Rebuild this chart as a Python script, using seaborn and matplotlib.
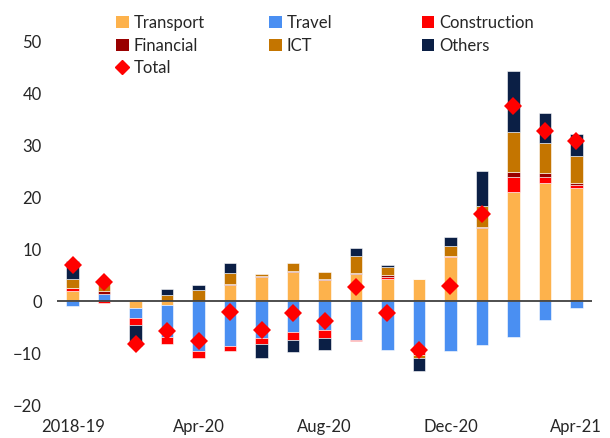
import numpy as np
import pandas as pd
import seaborn as sns
import matplotlib.pyplot as plt
from matplotlib.patches import Patch
from matplotlib.lines import Line2D

# categories along the x axis
periodos = ["2018-19", "2019-20", "Feb-20", "Mar-20", "Apr-20", "May-20", "Jun-20",
            "Jul-20", "Aug-20", "Sep-20", "Oct-20", "Nov-20", "Dec-20", "Jan-21",
            "Feb-21", "Mar-21", "Apr-21"]

# contributions by sector
transport = [1.9, 0.0, -1.2, -0.8, 0.0, 3.1, 4.7, 5.7, 4.1, 5.3, 4.3, 4.3, 8.5, 14.1, 21.0, 22.9, 21.8]
travel = [-0.9, 1.5, -2.1, -6.1, -9.5, -8.7, -7.1, -6.0, -5.6, -7.5, -9.3, -8.9, -9.5, -8.5, -6.8, -3.6, -1.3]
construction = [0.6, -0.4, -1.3, -1.4, -1.4, -0.9, -1.1, -1.4, -1.4, -0.2, 0.4, -1.4, 0.2, 0.0, 2.9, 1.0, 0.7]
financial = [0.1, 0.4, 0.0, 0.0, 0.0, 0.2, 0.2, 0.2, 0.2, 0.2, 0.4, 0.0, 0.0, 0.3, 1.0, 0.8, 0.4]
ict = [1.7, 1.4, 0.0, 1.3, 2.2, 2.2, 0.4, 1.4, 1.4, 3.3, 1.6, -0.7, 1.9, 4.0, 7.7, 5.8, 5.1]
others = [3.4, 0.8, -4.0, 1.1, 0.9, 1.9, -2.8, -2.3, -2.4, 1.5, 0.3, -2.5, 1.8, 6.7, 11.8, 5.9, 4.2]
total = [7.0, 3.8, -8.3, -5.8, -7.6, -2.1, -5.5, -2.3, -3.8, 2.8, -2.2, -9.3, 2.9, 16.8, 37.6, 32.8, 31.0]

series = ["Transport", "Travel", "Construction", "Financial", "ICT", "Others"]
valores = [transport, travel, construction, financial, ict, others]
cores = {"Transport": "#FDB24C", "Travel": "#4A8FF2", "Construction": "#FF0000",
         "Financial": "#990000", "ICT": "#C47500", "Others": "#0B1F45"}

sns.set_style("white")
plt.rcParams["font.family"] = ["Lato", "DejaVu Sans"]

fig = plt.figure(figsize=(6.1, 4.38), dpi=100)
ax = fig.add_axes([57 / 610, 33 / 438, 535 / 610, 363 / 438])

# empilhar positivos para cima e negativos para baixo
base_pos = np.zeros(len(periodos))
base_neg = np.zeros(len(periodos))
for nome, vals in zip(series, valores):
    vals = np.array(vals)
    bottom = np.where(vals >= 0, base_pos, base_neg)
    df = pd.DataFrame({"periodo": periodos, "valor": vals})
    sns.barplot(data=df, x="periodo", y="valor", bottom=bottom, color=cores[nome],
                width=0.4, saturation=1, edgecolor="#ffffff", linewidth=0.4, ax=ax)
    base_pos += np.where(vals >= 0, vals, 0)
    base_neg += np.where(vals < 0, vals, 0)

ax.axhline(0, color="#404040", lw=1.3, zorder=3)

df_total = pd.DataFrame({"periodo": periodos, "total": total})
sns.pointplot(data=df_total, x="periodo", y="total", linestyle="none", marker="D",
              color="#FF0000", markersize=9, markeredgewidth=0, ax=ax, zorder=5)

ax.set_xlim(-0.5, len(periodos) - 0.5)
ax.set_ylim(-20, 50)
ax.set_yticks(range(-20, 51, 10))
ax.set_xticks(range(0, len(periodos), 4))
ax.set_xticklabels([periodos[i] for i in range(0, len(periodos), 4)])
ax.tick_params(axis="both", length=0, labelsize=12)
ax.tick_params(axis="y", pad=11)
ax.tick_params(axis="x", pad=10)
ax.set_xlabel("")
ax.set_ylabel("")
for s in ax.spines.values():
    s.set_visible(False)

# legenda em três colunas independentes
def item(nome):
    return Patch(facecolor=cores[nome], edgecolor="none", label=nome)

total_h = Line2D([], [], marker="D", color="#FF0000", linestyle="none",
                 markersize=7, label="Total")
colunas = [([item("Transport"), item("Financial"), total_h], 116),
           ([item("Travel"), item("ICT")], 269),
           ([item("Construction"), item("Others")], 422)]
for handles, x in colunas:
    leg = fig.legend(handles=handles, loc="upper left", bbox_to_anchor=(x / 610, 1 - 15 / 438),
                     frameon=False, fontsize=12, handlelength=0.75, handleheight=0.75,
                     handletextpad=0.3, labelspacing=0.4, borderpad=0, borderaxespad=0)

fig.savefig("out.png", dpi=100)
